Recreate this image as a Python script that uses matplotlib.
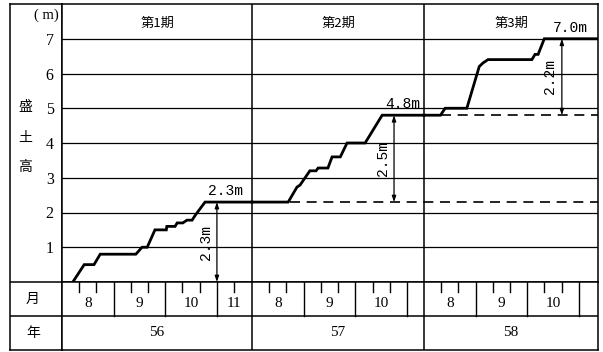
import matplotlib
matplotlib.use("Agg")
import matplotlib.pyplot as plt

# ---- data -------------------------------------------------------------
period_names = ["第1期", "第2期", "第3期"]
year_labels = ["56", "57", "58"]
month_names = ["8", "9", "10", "11"]
# length of each construction period on the time axis (months from 1 Aug)
period_spans = [3.68, 3.33, 3.37]

# embankment height (m) against time (months from 1 Aug of that year)
p1_time = [0.21, 0.43, 0.62, 0.74, 1.43, 1.55, 1.65, 1.80, 2.02, 2.03, 2.19,
           2.23, 2.34, 2.42, 2.52, 2.58, 2.77, 3.68]
p1_height = [0.0, 0.5, 0.5, 0.8, 0.8, 1.0, 1.0, 1.5, 1.5, 1.6, 1.6,
             1.7, 1.7, 1.78, 1.78, 1.92, 2.3, 2.3]

p2_time = [0.0, 0.70, 0.87, 0.93, 1.12, 1.24, 1.28, 1.47, 1.55, 1.71, 1.84,
           2.19, 2.52, 3.33]
p2_height = [2.3, 2.3, 2.73, 2.79, 3.2, 3.2, 3.28, 3.28, 3.6, 3.6, 4.0,
             4.0, 4.8, 4.8]

p3_time = [0.0, 0.32, 0.41, 0.83, 1.07, 1.14, 1.24, 2.09, 2.15, 2.21, 2.33, 3.37]
p3_height = [4.8, 4.8, 5.0, 5.0, 6.2, 6.3, 6.4, 6.4, 6.55, 6.55, 7.0, 7.0]

stage_top = [2.3, 4.8, 7.0]          # height reached at the end of each period
stage_gain = [2.3, 2.5, 2.2]         # increase during each period
gain_time = [3.00, 2.75, 2.67]       # where the increase is dimensioned
# reference (dashed) levels: start period index and time within that period
ref_start = [(1, 0.74), (2, 0.33)]

# ---- layout (pixels) --------------------------------------------------
W, H = 603, 352
L, X0, X1 = 10, 62, 598
TOP, Y0, YM, BOT = 4, 282, 316, 350

serif = ["Liberation Serif", "DejaVu Serif"]
mono = ["Liberation Mono", "DejaVu Sans Mono"]
cjk = ["Noto Sans CJK JP", "DejaVu Sans"]

fig = plt.figure(figsize=(W / 100, H / 100), dpi=100)


def fx(px):
    return px / W


def fy(py):
    return 1 - py / H


offsets = [sum(period_spans[:i]) for i in range(len(period_spans))]
total = sum(period_spans)

# left label column (drawn first, transparent, so tick labels stay visible)
lx = fig.add_axes([fx(L), fy(BOT), fx(X0) - fx(L), fy(TOP) - fy(BOT)])
lx.patch.set_visible(False)
lx.set_xlim(L, X0)
lx.set_ylim(BOT, TOP)
lx.set_xticks([])
lx.set_yticks([])
for s in lx.spines.values():
    s.set_linewidth(1.1)
lx.axhline(Y0, color="black", lw=1.1)
lx.axhline(YM, color="black", lw=1.1)
lx.text(46, 15, "( m)", ha="center", va="center", family=serif, fontsize=10.5)
for ch, yy in zip("盛土高", (107, 138, 167)):
    lx.text(25, yy, ch, ha="center", va="center", family=cjk, fontsize=10)
lx.text(33, 299, "月", ha="center", va="center", family=cjk, fontsize=10)
lx.text(33, 333, "年", ha="center", va="center", family=cjk, fontsize=10)

# main chart
ax = fig.add_axes([fx(X0), fy(Y0), fx(X1) - fx(X0), fy(TOP) - fy(Y0)])
ax.set_xlim(0, total)
ax.set_ylim(0, 8)
ax.set_xticks([])
ax.set_yticks(range(1, 8))
ax.set_yticklabels([str(v) for v in range(1, 8)], family=serif, fontsize=11.5)
ax.tick_params(axis="y", length=0, pad=6)
ax.grid(axis="y", color="black", lw=0.9)
for s in ax.spines.values():
    s.set_linewidth(1.1)

for off in offsets[1:]:
    ax.axvline(off, color="black", lw=1.1)

for name, off, span in zip(period_names, offsets, period_spans):
    ax.text(off + span / 2, 7.45, name, ha="center", va="center",
            family=cjk, fontsize=9.5)

curves = [(p1_time, p1_height), (p2_time, p2_height), (p3_time, p3_height)]
for off, (t, h) in zip(offsets, curves):
    ax.plot([off + v for v in t], h, color="black", lw=2.0,
            solid_joinstyle="miter", zorder=4)

# dashed reference levels carried to the right edge
for (pi, t0), level in zip(ref_start, stage_top[:2]):
    ax.plot([offsets[pi] + t0, total], [level, level], color="black",
            lw=1.2, dashes=(6, 4), zorder=3)

# dimension arrows for the increase in each period
bases = [0.0] + stage_top[:-1]
for i, (off, gt) in enumerate(zip(offsets, gain_time)):
    x = off + gt
    ax.annotate("", xy=(x, stage_top[i]), xytext=(x, bases[i]),
                arrowprops=dict(arrowstyle="<|-|>,head_length=0.35,head_width=0.12",
                                color="black", lw=0.9, shrinkA=0, shrinkB=0),
                zorder=5)
    ax.text(x - 0.22, bases[i] + stage_gain[i] / 2, f"{stage_gain[i]:.1f}m",
            rotation=90, ha="center", va="center", family=mono, fontsize=10.5)
    ax.text(x + 0.16, stage_top[i] + 0.12, f"{stage_top[i]:.1f}m",
            ha="center", va="bottom", family=mono, fontsize=10.5)

# month / year rows
bx = fig.add_axes([fx(X0), fy(BOT), fx(X1) - fx(X0), fy(Y0) - fy(BOT)])
bx.set_xlim(0, total)
bx.set_ylim(0, 2)
bx.set_xticks([])
bx.set_yticks([])
for s in bx.spines.values():
    s.set_linewidth(1.1)
bx.axhline(1, color="black", lw=1.1)
for off in offsets[1:]:
    bx.axvline(off, color="black", lw=1.1)

tick_len = 10 / 34
for off, span, year in zip(offsets, period_spans, year_labels):
    for m, name in enumerate(month_names):
        if m >= span:
            break
        if 0 < m < span - 0.05:
            bx.plot([off + m, off + m], [1, 2], color="black", lw=1.0)
        for frac in (1 / 3, 2 / 3):
            if m + frac < span - 0.05:
                bx.plot([off + m + frac] * 2, [2, 2 - tick_len],
                        color="black", lw=1.0)
        end = min(m + 1, span)
        if end - m >= 0.5:
            bx.text(off + (m + end) / 2, 1.38, name, ha="center",
                    va="center", family=serif, fontsize=11)
    bx.text(off + span / 2, 0.5, year, ha="center", va="center",
            family=serif, fontsize=11)

fig.savefig("out.png", dpi=100)
